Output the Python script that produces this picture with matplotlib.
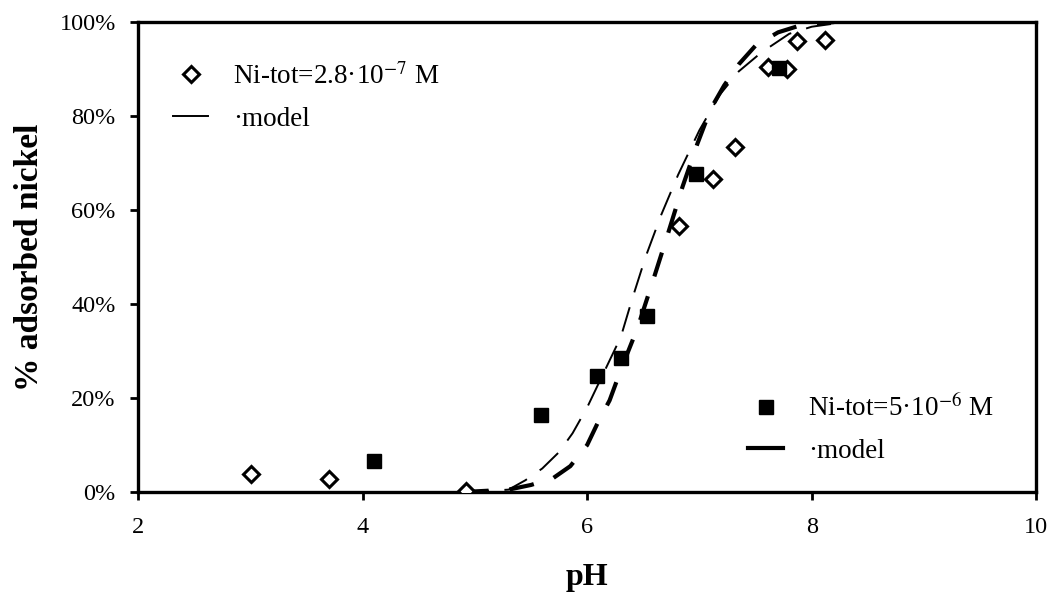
import matplotlib
matplotlib.use("Agg")
import matplotlib.pyplot as plt
from matplotlib.ticker import PercentFormatter
from matplotlib.lines import Line2D

plt.rcParams["font.family"] = ["Liberation Serif", "DejaVu Serif"]
plt.rcParams["mathtext.fontset"] = "stix"

# measured adsorption, Ni-tot = 2.8e-7 M
ph_low = [3.01, 3.70, 4.92, 6.82, 7.12, 7.32, 7.61, 7.78, 7.87, 8.12]
ads_low = [3.8, 2.8, 0.2, 56.5, 66.5, 73.5, 90.5, 90.0, 96.0, 96.2]

# measured adsorption, Ni-tot = 5e-6 M
ph_high = [4.10, 5.59, 6.09, 6.30, 6.53, 6.97, 7.71]
ads_high = [6.7, 16.4, 24.6, 28.6, 37.4, 67.6, 90.2]

# model curves
ph_model_low = [4.9, 5.3, 5.45, 5.6, 5.75, 5.87, 6.0, 6.1, 6.2, 6.3, 6.4, 6.52,
                6.66, 6.81, 7.0, 7.18, 7.35, 7.55, 7.8, 8.0, 8.3]
ads_model_low = [0.0, 0.5, 2.5, 5.0, 8.5, 12.5, 18.0, 23.0, 28.0, 33.0, 41.0, 50.0,
                 59.0, 67.5, 77.0, 84.5, 89.5, 93.5, 97.5, 99.0, 100.0]

ph_model_high = [4.9, 5.3, 5.5, 5.7, 5.85, 6.0, 6.1, 6.2, 6.3, 6.45, 6.6, 6.72,
                 6.85, 6.98, 7.1, 7.22, 7.35, 7.5, 7.7, 7.9, 8.2]
ads_model_high = [0.0, 0.5, 1.5, 3.0, 5.5, 10.0, 15.0, 19.5, 26.0, 35.0, 46.0, 55.0,
                  65.0, 74.0, 81.5, 86.5, 91.0, 95.0, 97.8, 99.3, 100.0]

fig = plt.figure(figsize=(10.5, 6), dpi=100)
ax = fig.add_axes([0.1314, 0.18, 0.8556, 0.7833])

ax.plot(ph_model_low, ads_model_low, color="black", lw=1.4,
        dashes=(13, 8), zorder=2)
ax.plot(ph_model_high, ads_model_high, color="black", lw=3.0,
        dashes=(6, 5), zorder=2)
ax.plot(ph_low, ads_low, ls="none", marker="D", ms=8, mfc="white",
        mec="black", mew=2.2, zorder=3)
ax.plot(ph_high, ads_high, ls="none", marker="s", ms=10, mfc="black",
        mec="black", zorder=3)

ax.set_xlim(2, 10)
ax.set_ylim(0, 100)
ax.set_xticks([2, 4, 6, 8, 10])
ax.set_yticks([0, 20, 40, 60, 80, 100])
ax.yaxis.set_major_formatter(PercentFormatter(decimals=0))

for s in ax.spines.values():
    s.set_linewidth(2.4)
ax.tick_params(direction="out", length=6, width=2, labelsize=17.5)
ax.tick_params(axis="y", pad=10)
ax.tick_params(axis="x", pad=12)

ax.set_xlabel("pH", fontsize=23, fontweight="bold", labelpad=18)
ax.set_ylabel("% adsorbed nickel", fontsize=24, fontweight="bold", labelpad=10)

h_low = [Line2D([], [], ls="none", marker="D", ms=8, mfc="white", mec="black", mew=2.2),
         Line2D([], [], color="black", lw=1.4)]
leg1 = ax.legend(h_low, ["Ni-tot=2.8·10$^{-7}$ M", "·model"], loc="upper left",
                 bbox_to_anchor=(0.012, 0.965), frameon=False, fontsize=19.5,
                 handlelength=1.3, handletextpad=0.9, labelspacing=0.62)
ax.add_artist(leg1)

h_high = [Line2D([], [], ls="none", marker="s", ms=10, mfc="black", mec="black"),
          Line2D([], [], color="black", lw=3.0)]
ax.legend(h_high, ["Ni-tot=5·10$^{-6}$ M", "·model"], loc="lower left",
          bbox_to_anchor=(0.652, 0.008), frameon=False, fontsize=19.5,
          handlelength=1.3, handletextpad=0.9, labelspacing=0.62)

fig.savefig("out.png", dpi=100)
